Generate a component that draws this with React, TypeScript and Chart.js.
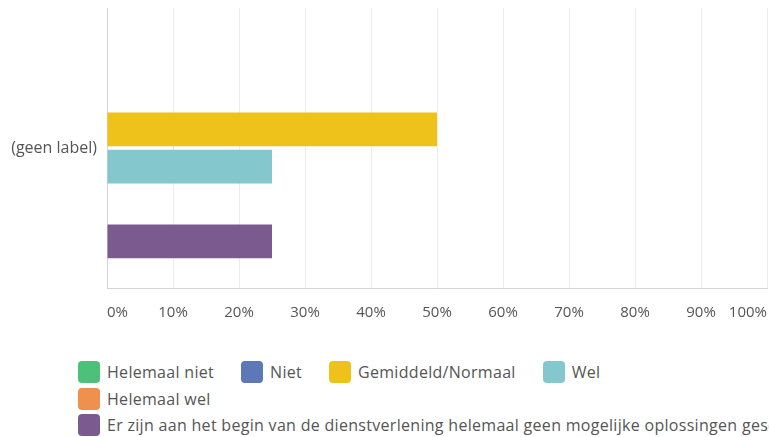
import React, { useEffect, useRef } from "react";
import { Chart, registerables } from "chart.js";

Chart.register(...registerables);

const categories = ["(geen label)"];
const seriesNames = [
  "Helemaal niet",
  "Niet",
  "Gemiddeld/Normaal",
  "Wel",
  "Helemaal wel",
  "Er zijn aan het begin van de dienstverlening helemaal geen mogelijke oplossingen geschetst",
];
const seriesValues = [[0], [0], [50], [25], [0], [25]];
const seriesColors = ["#4DC07A", "#5C78B7", "#EEC21B", "#84C7CD", "#F0904F", "#7B5B8F"];
const tickValues = [0, 10, 20, 30, 40, 50, 60, 70, 80, 90, 100];
const legendRows = [[0, 1, 2, 3], [4], [5]];

const FONT = "'Open Sans', sans-serif";
const TEXT = "#555555";

export default function App() {
  const ref = useRef<HTMLCanvasElement | null>(null);
  useEffect(() => {
    if (!ref.current) return;
    const chart = new Chart(ref.current, {
      type: "bar",
      data: {
        labels: categories,
        datasets: seriesNames.map((n, i) => ({
          label: n,
          data: seriesValues[i],
          backgroundColor: seriesColors[i],
          borderWidth: 0,
          categoryPercentage: 0.8,
          barPercentage: 0.9,
        })),
      },
      options: {
        indexAxis: "y",
        animation: false,
        responsive: false,
        maintainAspectRatio: false,
        layout: { padding: { top: 8, left: 0, right: 2, bottom: 0 } },
        plugins: { legend: { display: false }, tooltip: { enabled: false } },
        scales: {
          x: {
            min: 0,
            max: 100,
            afterBuildTicks: (axis: any) => {
              axis.ticks = tickValues.map((v) => ({ value: v }));
            },
            grid: { color: "#ececec", lineWidth: 1, drawTicks: false },
            border: { color: "#d4d4d4", width: 1 },
            ticks: {
              align: "inner",
              padding: 16,
              color: TEXT,
              font: { family: FONT, size: 15 },
              callback: (v: any) => v + "%",
            },
            afterFit: (axis: any) => {
              axis.height = 45;
              axis.paddingLeft = 0;
              axis.paddingRight = 0;
            },
          },
          y: {
            grid: { display: false, drawTicks: false },
            border: { color: "#d4d4d4", width: 1 },
            ticks: {
              padding: 10,
              color: TEXT,
              font: { family: FONT, size: 16 },
            },
            afterFit: (axis: any) => {
              axis.width = 107;
              axis.paddingTop = 0;
              axis.paddingBottom = 0;
            },
          },
        },
      },
    });
    return () => chart.destroy();
  }, []);

  return (
    <div
      style={{
        position: "absolute",
        left: 0,
        top: 0,
        width: 769,
        height: 437,
        overflow: "hidden",
        background: "#fff",
        fontFamily: FONT,
      }}
    >
      <canvas ref={ref} width={769} height={333} style={{ display: "block" }} />
      <div style={{ position: "absolute", left: 78, top: 359 }}>
        {legendRows.map((row, ri) => (
          <div key={ri} style={{ display: "flex", height: 26.5, alignItems: "center", whiteSpace: "nowrap" }}>
            {row.map((i) => (
              <div key={i} style={{ display: "flex", alignItems: "center", marginRight: 27 }}>
                <span
                  style={{
                    display: "inline-block",
                    width: 22,
                    height: 22,
                    borderRadius: 4,
                    background: seriesColors[i],
                    marginRight: 7,
                  }}
                />
                <span style={{ fontSize: 16, color: TEXT, letterSpacing: 0.3 }}>{seriesNames[i]}</span>
              </div>
            ))}
          </div>
        ))}
      </div>
    </div>
  );
}
